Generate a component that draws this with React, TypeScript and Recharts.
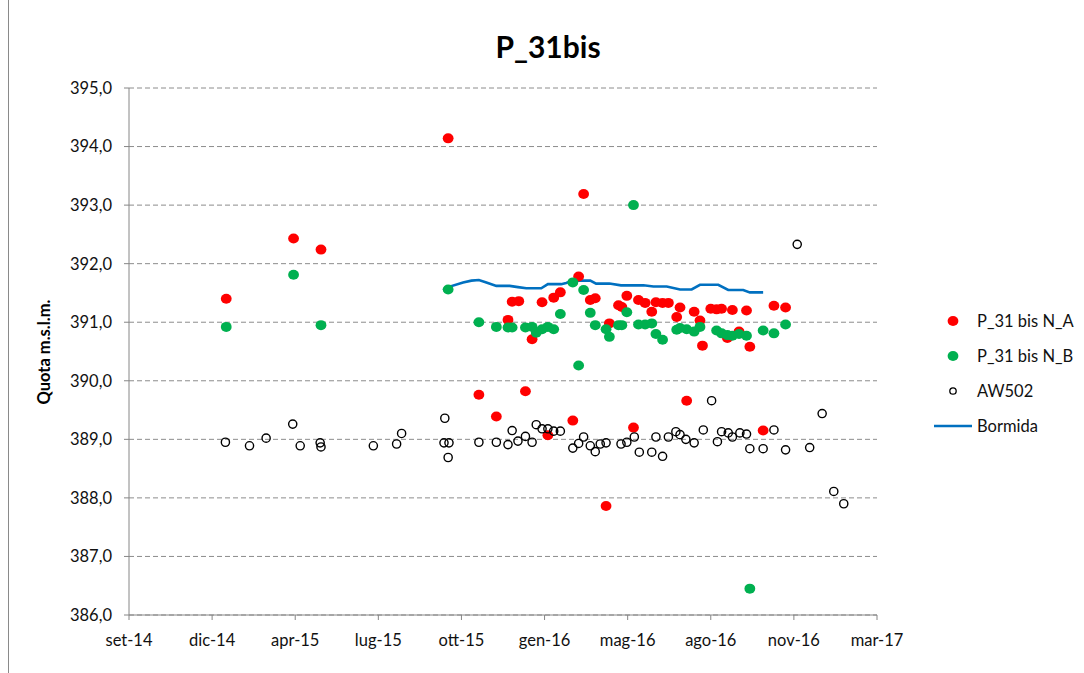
import { ScatterChart, Scatter, XAxis, YAxis, CartesianGrid } from 'recharts';

// Italian month abbreviations used for the date axis labels
const MONTHS_IT = ['gen', 'feb', 'mar', 'apr', 'mag', 'giu', 'lug', 'ago', 'set', 'ott', 'nov', 'dic'];
const X_AXIS_START = '2014-09-18';
const X_AXIS_STEP_DAYS = 100;
const X_AXIS_STEPS = 9;
const Y_TICKS = [386, 387, 388, 389, 390, 391, 392, 393, 394, 395];

// sampling campaigns shared by the two levels of P_31 bis
const campaignDates = [
  '2015-01-13', '2015-04-04', '2015-05-07', '2015-10-07', '2015-11-13', '2015-12-04',
  '2015-12-18', '2015-12-23', '2015-12-31', '2016-01-08', '2016-01-16', '2016-01-21',
  '2016-01-28', '2016-02-04', '2016-02-11', '2016-02-19', '2016-03-05', '2016-03-12',
  '2016-03-18', '2016-03-26', '2016-04-01', '2016-04-14', '2016-04-18', '2016-04-29',
  '2016-05-03', '2016-05-09', '2016-05-17', '2016-05-23', '2016-05-31', '2016-06-08',
  '2016-06-13', '2016-06-21', '2016-06-28', '2016-07-08', '2016-07-12', '2016-07-20',
  '2016-07-29', '2016-08-05', '2016-08-08', '2016-08-18', '2016-08-25', '2016-08-31',
  '2016-09-07', '2016-09-13', '2016-09-21', '2016-09-30', '2016-10-04', '2016-10-20',
  '2016-11-02', '2016-11-16',
];
const levelNA: (number | null)[] = [
  391.40, 392.43, 392.24, 394.14, 389.76, 389.39,
  391.04, 391.35, 391.36, 389.82, 390.71, null,
  391.34, 389.07, 391.42, 391.51, 389.32, 391.78,
  393.19, 391.38, 391.41, 387.86, 390.98, 391.29,
  391.26, 391.45, 389.20, 391.38, 391.33, 391.18,
  391.34, 391.33, 391.33, 391.09, 391.25, 389.66,
  391.18, 391.03, 390.60, 391.23, 391.22, 391.23,
  390.73, 391.21, 390.84, 391.20, 390.58, 389.15,
  391.28, 391.25,
];
const levelNB: (number | null)[] = [
  390.92, 391.81, 390.95, 391.56, 391.00, 390.92,
  390.91, 390.91, null, 390.91, 390.92, 390.82,
  390.88, 390.92, 390.88, 391.14, 391.68, 390.26,
  391.55, 391.16, 390.95, 390.88, 390.75, 390.95,
  390.95, 391.17, 393.00, 390.96, 390.96, 390.98,
  390.80, 390.70, null, 390.87, 390.90, 390.88,
  390.84, 390.92, null, null, 390.86, 390.81,
  390.78, 390.77, 390.80, 390.77, 386.45, 390.86,
  390.81, 390.96,
];

const aw502Dates = [
  '2015-01-12', '2015-02-10', '2015-03-02', '2015-04-03', '2015-04-12', '2015-05-06',
  '2015-05-07', '2015-07-09', '2015-08-06', '2015-08-12', '2015-10-02', '2015-10-03',
  '2015-10-07', '2015-10-08', '2015-11-13', '2015-12-04', '2015-12-18', '2015-12-23',
  '2015-12-30', '2016-01-08', '2016-01-16', '2016-01-21', '2016-01-28', '2016-02-04',
  '2016-02-11', '2016-02-19', '2016-03-05', '2016-03-12', '2016-03-18', '2016-03-26',
  '2016-04-01', '2016-04-07', '2016-04-14', '2016-05-02', '2016-05-09', '2016-05-18',
  '2016-05-24', '2016-06-08', '2016-06-13', '2016-06-21', '2016-06-28', '2016-07-07',
  '2016-07-12', '2016-07-19', '2016-07-29', '2016-08-09', '2016-08-19', '2016-08-26',
  '2016-08-31', '2016-09-08', '2016-09-13', '2016-09-22', '2016-09-30', '2016-10-04',
  '2016-10-20', '2016-11-02', '2016-11-16', '2016-11-30', '2016-12-15', '2016-12-30',
  '2017-01-13', '2017-01-25',
];
const aw502Levels = [
  388.95, 388.89, 389.02, 389.26, 388.89, 388.94,
  388.87, 388.89, 388.92, 389.10, 388.94, 389.36,
  388.69, 388.94, 388.95, 388.95, 388.91, 389.15,
  388.97, 389.05, 388.95, 389.25, 389.18, 389.18,
  389.14, 389.14, 388.85, 388.93, 389.04, 388.89,
  388.79, 388.92, 388.94, 388.92, 388.95, 389.04,
  388.78, 388.78, 389.04, 388.71, 389.04, 389.13,
  389.08, 389.00, 388.94, 389.16, 389.66, 388.96,
  389.13, 389.11, 389.04, 389.11, 389.09, 388.84,
  388.84, 389.16, 388.82, 392.33, 388.86, 389.44,
  388.11, 387.90,
];

// river stage
const bormidaDates = [
  '2015-10-01', '2015-10-07', '2015-10-25', '2015-11-04', '2015-11-13', '2015-11-22',
  '2015-12-04', '2015-12-20', '2015-12-30', '2016-01-09', '2016-01-27', '2016-02-04',
  '2016-02-20', '2016-02-26', '2016-03-05', '2016-03-26', '2016-04-02', '2016-04-18',
  '2016-05-02', '2016-05-29', '2016-06-10', '2016-06-26', '2016-07-12', '2016-07-26',
  '2016-08-05', '2016-08-27', '2016-09-08', '2016-09-26', '2016-10-04', '2016-10-20',
];
const bormidaLevels = [
  391.55, 391.60, 391.68, 391.71, 391.72, 391.68,
  391.62, 391.62, 391.60, 391.58, 391.58, 391.65,
  391.65, 391.67, 391.71, 391.71, 391.66, 391.66,
  391.63, 391.63, 391.61, 391.61, 391.56, 391.56,
  391.64, 391.64, 391.55, 391.55, 391.51, 391.51,
];

const DAY_MS = 86400000;
const toTime = (iso: string) => Date.parse(`${iso}T00:00:00Z`);

const toPoints = (dates: string[], values: (number | null)[]) =>
  dates
    .map((d, i) => ({ x: toTime(d), y: values[i] }))
    .filter((p) => p.y !== null);

const seriesNA = toPoints(campaignDates, levelNA);
const seriesNB = toPoints(campaignDates, levelNB);
const seriesAW = toPoints(aw502Dates, aw502Levels);
const seriesBormida = toPoints(bormidaDates, bormidaLevels);

const xStart = toTime(X_AXIS_START);
const xTicks = Array.from({ length: X_AXIS_STEPS + 1 }, (_, i) => xStart + i * X_AXIS_STEP_DAYS * DAY_MS);

const formatDate = (t: number) => {
  const d = new Date(t);
  return `${MONTHS_IT[d.getUTCMonth()]}-${String(d.getUTCFullYear()).slice(2)}`;
};
const formatLevel = (v: number) => v.toFixed(1).replace('.', ',');

const FONT = 'Lato, "Open Sans", sans-serif';
const RED = '#ff0000';
const GREEN = '#00b050';
const BLUE = '#0070c0';
const AXIS_GREY = '#868686';

const filledDot = (fill: string) => (props: any) => (
  <ellipse cx={props.cx} cy={props.cy} rx={5.4} ry={5} fill={fill} />
);
const hollowDot = (props: any) => (
  <circle cx={props.cx} cy={props.cy} r={4.1} fill="none" stroke="#000" strokeWidth={1.4} />
);
const noDot = () => <g />;

const legendItems = [
  { name: 'P_31 bis N_A', kind: 'dot', color: RED },
  { name: 'P_31 bis N_B', kind: 'dot', color: GREEN },
  { name: 'AW502', kind: 'ring', color: '#000' },
  { name: 'Bormida', kind: 'line', color: BLUE },
];

function LegendBox() {
  return (
    <div style={{ position: 'absolute', left: 932, top: 303, fontFamily: FONT, fontSize: 16.5, color: '#111' }}>
      {legendItems.map((it) => (
        <div key={it.name} style={{ display: 'flex', alignItems: 'center', height: 35 }}>
          <svg width={42} height={14} style={{ marginRight: 3 }}>
            {it.kind === 'dot' && <ellipse cx={21} cy={7} rx={5.4} ry={5} fill={it.color} />}
            {it.kind === 'ring' && <circle cx={21} cy={7} r={3.2} fill="none" stroke={it.color} strokeWidth={1.3} />}
            {it.kind === 'line' && <line x1={2} y1={7} x2={40} y2={7} stroke={it.color} strokeWidth={2.5} />}
          </svg>
          <span>{it.name}</span>
        </div>
      ))}
    </div>
  );
}

export default function App() {
  return (
    <div style={{ position: 'absolute', left: 0, top: 0, width: 1084, height: 673, background: '#fff', fontFamily: FONT }}>
      <div style={{ position: 'absolute', left: 8, top: 0, width: 0, height: 673, borderLeft: '1px solid #8a8a8a' }} />
      <div
        style={{
          position: 'absolute', left: 0, top: 28, width: 1096, textAlign: 'center',
          fontSize: 30, fontWeight: 700, color: '#000',
        }}
      >
        P_31bis
      </div>
      <div
        style={{
          position: 'absolute', left: 44, top: 352, transform: 'translate(-50%, -50%) rotate(-90deg)',
          whiteSpace: 'nowrap', fontSize: 16.5, fontWeight: 700, color: '#000',
        }}
      >
        Quota m.s.l.m.
      </div>
      <div style={{ position: 'absolute', left: 0, top: 0 }}>
        <ScatterChart width={1084} height={673} margin={{ top: 88, right: 207, bottom: 28, left: 0 }}>
          <CartesianGrid horizontal vertical={false} stroke="#8c8c8c" strokeDasharray="5 3" />
          <XAxis
            type="number"
            dataKey="x"
            domain={[xTicks[0], xTicks[xTicks.length - 1]]}
            ticks={xTicks}
            interval={0}
            tickFormatter={formatDate}
            height={30}
            axisLine={{ stroke: AXIS_GREY }}
            tickLine={{ stroke: AXIS_GREY }}
            tickSize={5}
            tickMargin={14}
            tick={{ fill: '#111', fontSize: 16.5, fontFamily: FONT }}
            allowDataOverflow
          />
          <YAxis
            type="number"
            dataKey="y"
            domain={[386, 395]}
            ticks={Y_TICKS}
            interval={0}
            tickFormatter={formatLevel}
            width={129}
            axisLine={{ stroke: AXIS_GREY }}
            tickLine={{ stroke: AXIS_GREY }}
            tickSize={5}
            tickMargin={12}
            tick={{ fill: '#111', fontSize: 16.5, fontFamily: FONT }}
            allowDataOverflow
          />
          <Scatter
            name="Bormida"
            data={seriesBormida}
            line={{ stroke: BLUE, strokeWidth: 2.6 }}
            shape={noDot}
            isAnimationActive={false}
          />
          <Scatter name="P_31 bis N_A" data={seriesNA} shape={filledDot(RED)} isAnimationActive={false} />
          <Scatter name="P_31 bis N_B" data={seriesNB} shape={filledDot(GREEN)} isAnimationActive={false} />
          <Scatter name="AW502" data={seriesAW} shape={hollowDot} isAnimationActive={false} />
        </ScatterChart>
      </div>
      <LegendBox />
    </div>
  );
}
